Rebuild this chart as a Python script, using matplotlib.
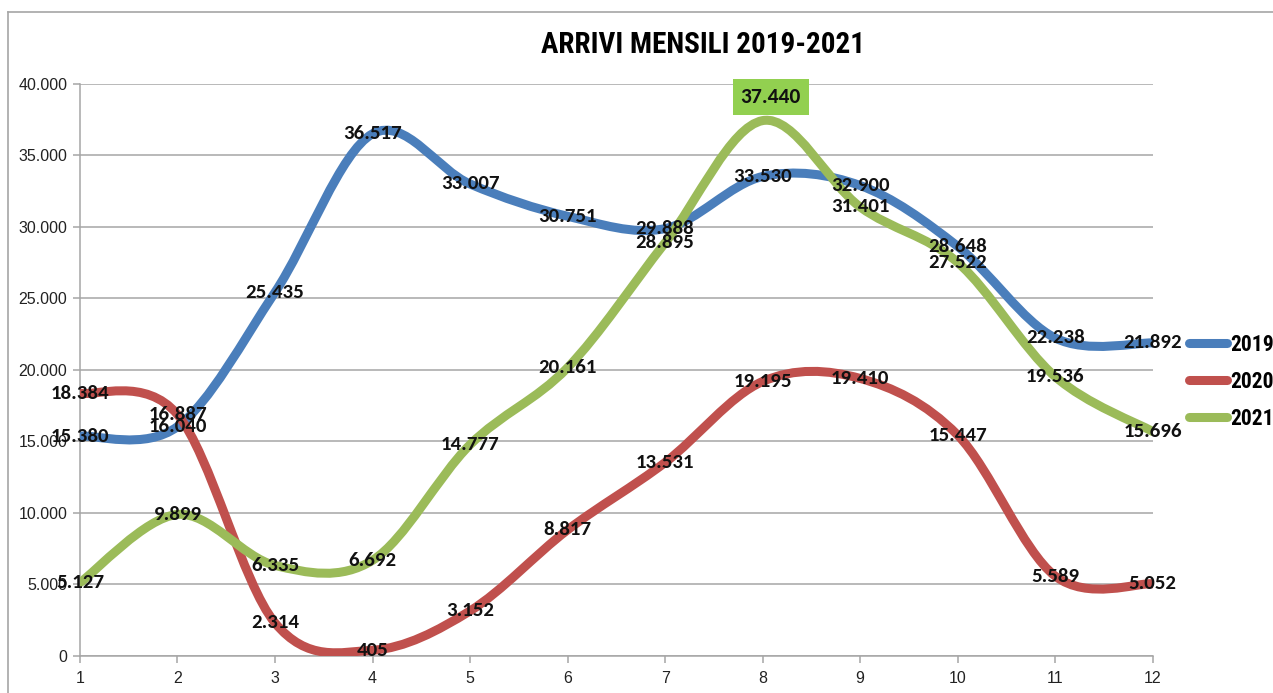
import matplotlib
matplotlib.use('Agg')
import matplotlib.pyplot as plt
from matplotlib.path import Path
from matplotlib.patches import PathPatch
from matplotlib.lines import Line2D
from matplotlib.ticker import FuncFormatter
import numpy as np

months = [1, 2, 3, 4, 5, 6, 7, 8, 9, 10, 11, 12]
arrivi_2019 = [15380, 16040, 25435, 36517, 33007, 30751, 29888, 33530, 32900, 28648, 22238, 21892]
arrivi_2020 = [18384, 16887, 2314, 405, 3152, 8817, 13531, 19195, 19410, 15447, 5589, 5052]
arrivi_2021 = [5127, 9899, 6335, 6692, 14777, 20161, 28895, 37440, 31401, 27522, 19536, 15696]
series_names = ['2019', '2020', '2021']
colors = ['#4A7EBB', '#C0504D', '#9BBB59']

NARROW = ['Roboto Condensed', 'Archivo Narrow', 'DejaVu Sans']
LABEL_FONT = ['Carlito', 'Lato', 'DejaVu Sans']


def it_fmt(v):
    # italian thousands separator
    return f'{int(round(v)):,}'.replace(',', '.')


def smooth_path(x, y):
    # excel-like smoothed line, drawn as cubic bezier segments
    pts = np.column_stack([x, y]).astype(float)
    n = len(pts)
    verts = [pts[0]]
    codes = [Path.MOVETO]
    for i in range(n - 1):
        p_prev = pts[i - 1] if i > 0 else pts[i]
        p_next2 = pts[i + 2] if i + 2 < n else pts[i + 1]
        c1 = pts[i] + (pts[i + 1] - p_prev) / 6
        c2 = pts[i + 1] - (p_next2 - pts[i]) / 6
        verts += [c1, c2, pts[i + 1]]
        codes += [Path.CURVE4] * 3
    return Path(verts, codes)


fig = plt.figure(figsize=(12.73, 6.93), dpi=100)
ax = fig.add_axes([0.0628, 0.0534, 0.8427, 0.8254])

# outer chart border (only top and left are visible)
fig.add_artist(Line2D([8 / 1273, 1.0], [1 - 12 / 693] * 2, color='#A6A6A6', lw=1.2,
                      transform=fig.transFigure))
fig.add_artist(Line2D([8 / 1273] * 2, [0, 1 - 12 / 693], color='#A6A6A6', lw=1.2,
                      transform=fig.transFigure))

ax.set_xlim(1, 12)
ax.set_ylim(0, 40000)
ax.set_yticks(np.arange(0, 40001, 5000))
ax.set_xticks(months)
ax.yaxis.set_major_formatter(FuncFormatter(lambda v, p: it_fmt(v)))
ax.grid(True, axis='y', color='#A6A6A6', lw=1.1)
ax.set_axisbelow(True)
for s in ['top', 'right']:
    ax.spines[s].set_visible(False)
for s in ['left', 'bottom']:
    ax.spines[s].set_color('#A6A6A6')
    ax.spines[s].set_linewidth(1.1)
ax.tick_params(axis='both', colors='#A6A6A6', length=5, width=1.1, labelsize=11.5,
               labelcolor='#222222')
ax.tick_params(axis='x', pad=6)
ax.tick_params(axis='y', pad=4)
for lbl in ax.get_xticklabels() + ax.get_yticklabels():
    lbl.set_fontfamily(['Liberation Sans', 'DejaVu Sans'])

all_series = [arrivi_2019, arrivi_2020, arrivi_2021]
for vals, c in zip(all_series, colors):
    patch = PathPatch(smooth_path(months, vals), facecolor='none', edgecolor=c, lw=6.5,
                      capstyle='round', joinstyle='round', zorder=3)
    ax.add_patch(patch)

peak_i = int(np.argmax(arrivi_2021))

# data labels centred on the points
for vals in all_series:
    for i, (m, v) in enumerate(zip(months, vals)):
        if vals is arrivi_2021 and i == peak_i:
            continue
        ax.text(m, v, it_fmt(v), ha='center', va='center', fontsize=15,
                fontweight='bold', family=LABEL_FONT, color='#111111', zorder=5)

# highlighted peak of 2021
ax.annotate(it_fmt(arrivi_2021[peak_i]), (months[peak_i], arrivi_2021[peak_i]),
            xytext=(6, 17), textcoords='offset points', ha='center', va='center',
            fontsize=15.5, fontweight='bold', family=LABEL_FONT, color='#111111',
            bbox=dict(boxstyle='square,pad=0.35', fc='#92D050', ec='none'),
            annotation_clip=False, zorder=6)

fig.text(0.552, 1 - 45 / 693, 'ARRIVI MENSILI 2019-2021', ha='center', va='center',
         fontsize=21, fontweight='bold', family=NARROW)

handles = [Line2D([], [], color=c, lw=6.5, solid_capstyle='round') for c in colors]
leg = fig.legend(handles, series_names, loc='center left', bbox_to_anchor=(0.927, 0.449),
                 frameon=False, handlelength=1.8, handletextpad=0.15, labelspacing=0.7,
                 borderaxespad=0, prop={'family': NARROW, 'weight': 'bold', 'size': 15.5})

fig.savefig('out.png', dpi=100)
